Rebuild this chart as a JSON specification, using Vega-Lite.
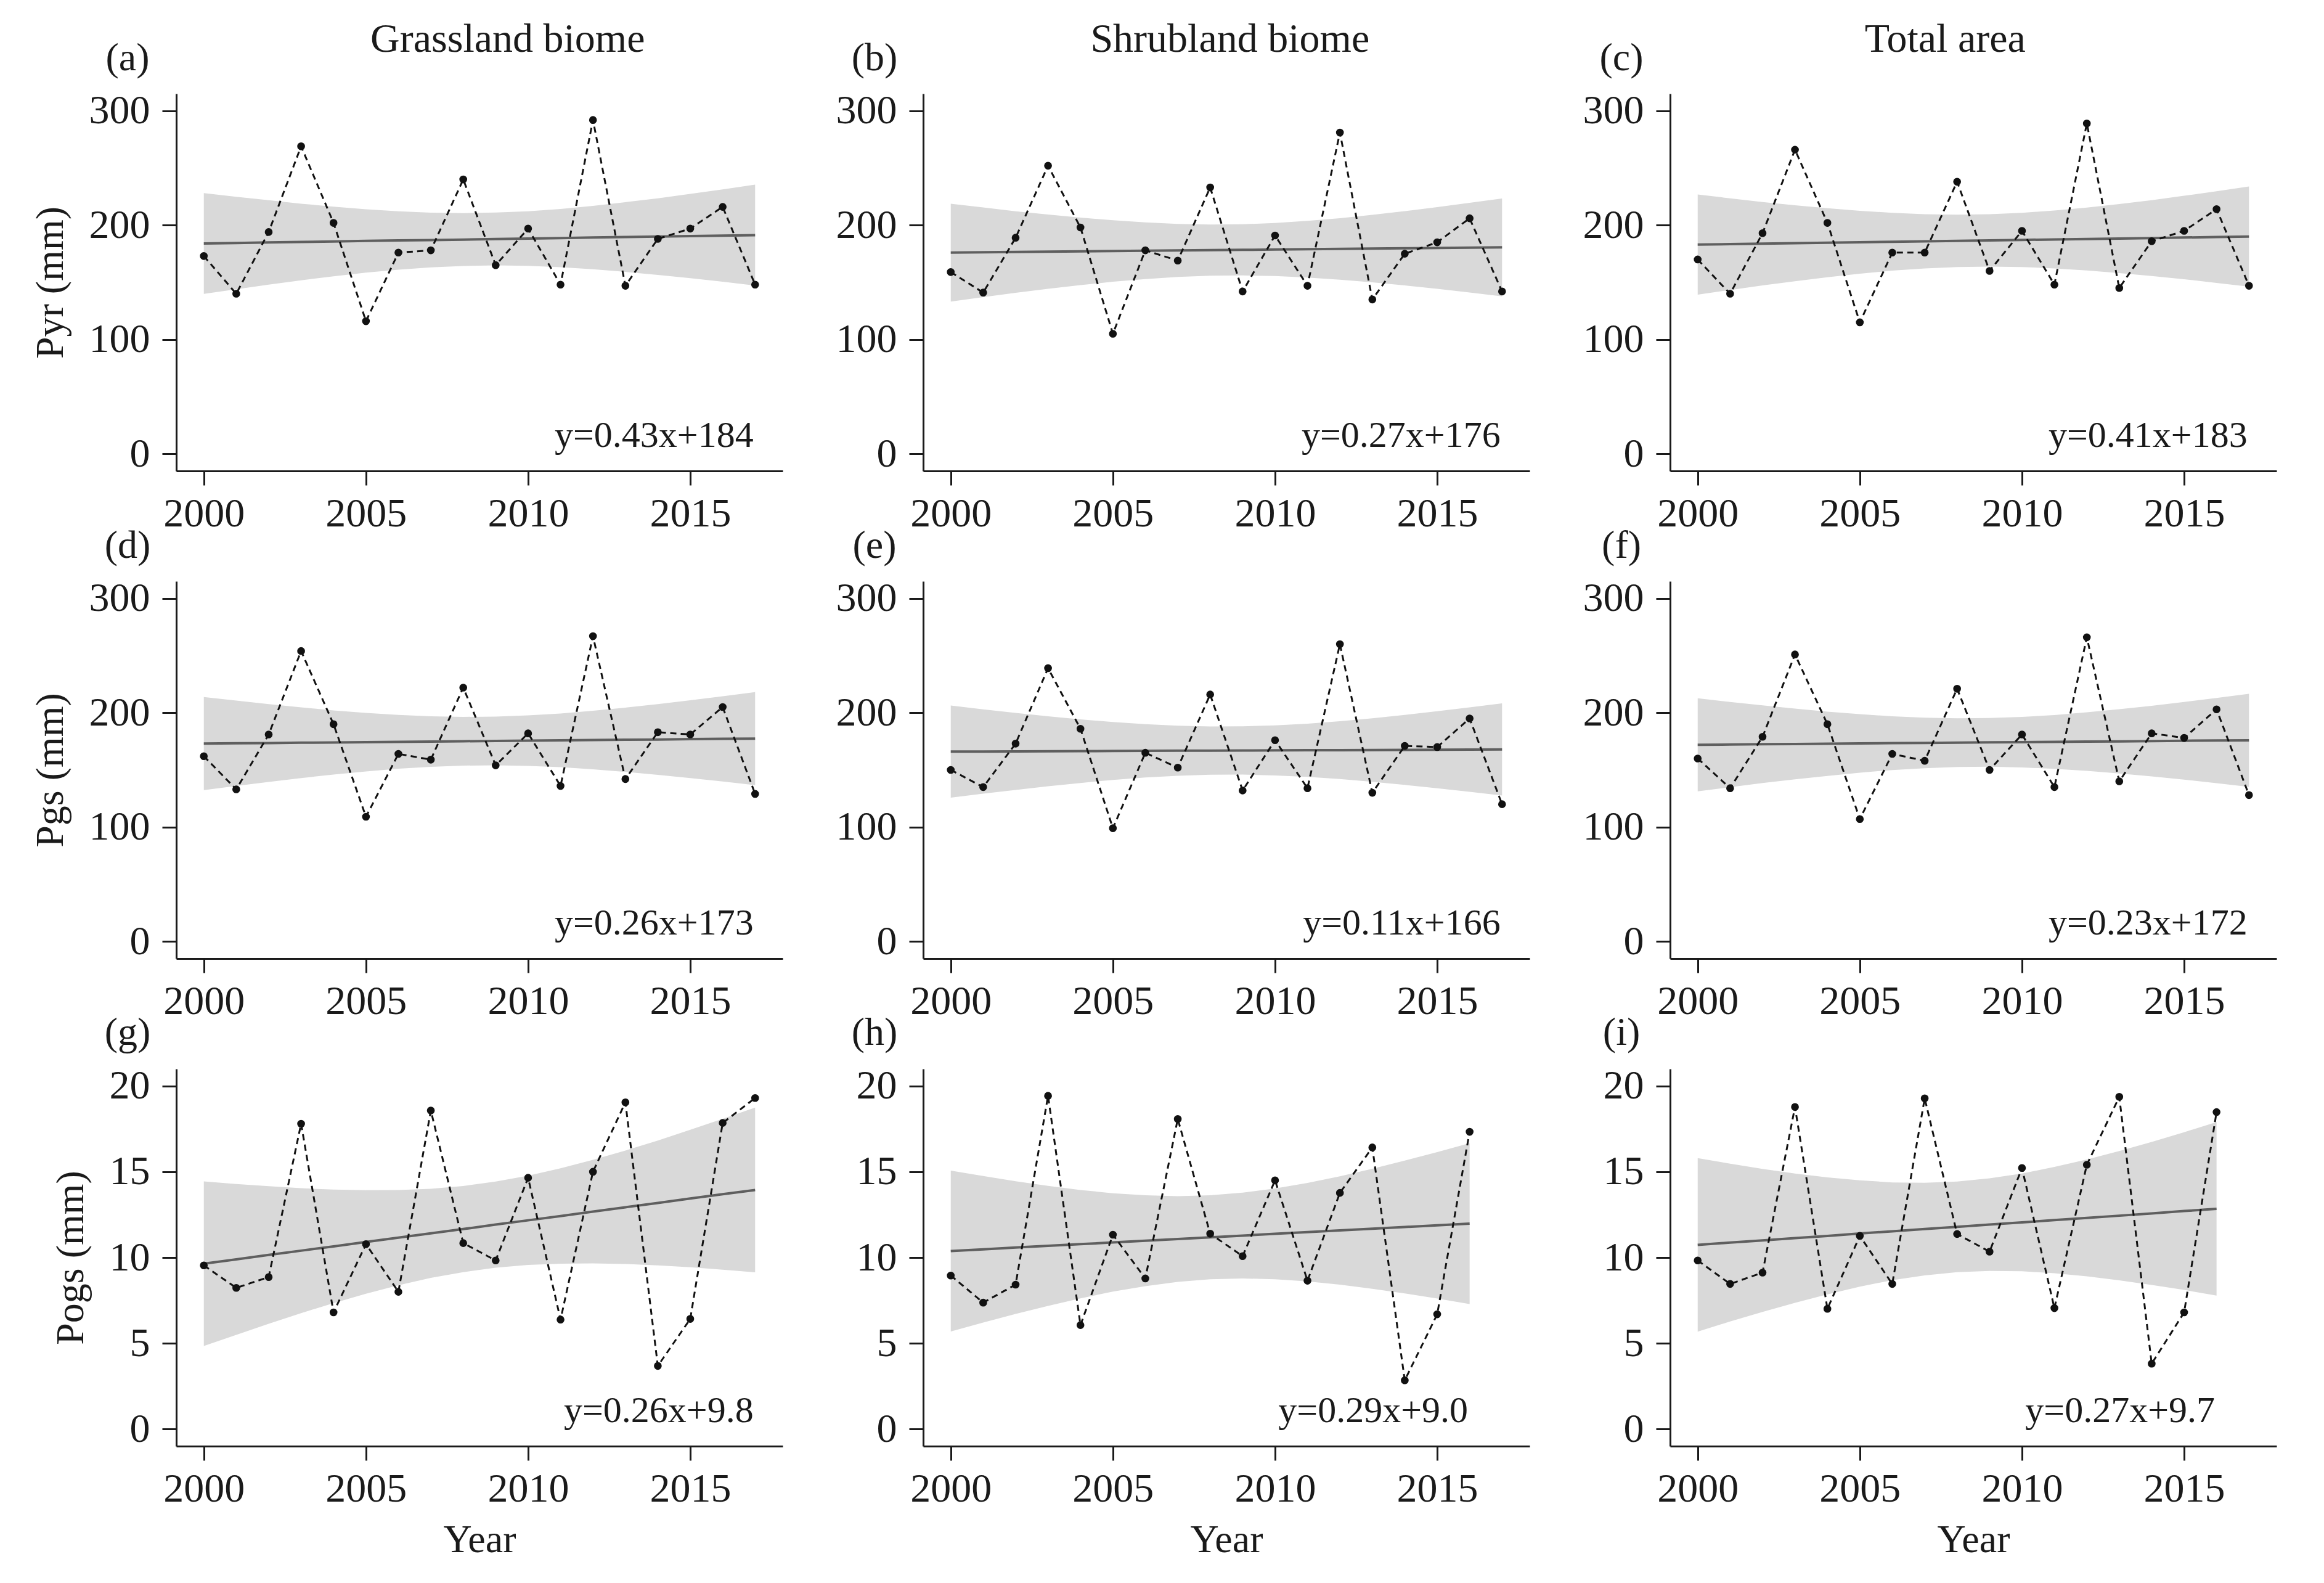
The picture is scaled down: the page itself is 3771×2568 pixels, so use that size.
{
"$schema": "https://vega.github.io/schema/vega-lite/v6.json",
"background": "white",
"padding": {"left": 50, "top": 30, "right": 70, "bottom": 30},
"bounds": "flush",
"columns": 3,
"spacing": {"row": 179, "column": 228},
"datasets": {
"a": [
{"year":2000,"v":173,"fit":184,"lo":139.9,"hi":228.1},{"year":2001,"v":140,"fit":184.4,"lo":144.0,"hi":224.8},{"year":2002,"v":194,"fit":184.9,"lo":148.0,"hi":221.8},{"year":2003,"v":269,"fit":185.3,"lo":151.8,"hi":218.8},{"year":2004,"v":202,"fit":185.7,"lo":155.2,"hi":216.2},{"year":2005,"v":116,"fit":186.2,"lo":158.5,"hi":213.9},{"year":2006,"v":176,"fit":186.6,"lo":161.1,"hi":212.1},{"year":2007,"v":178,"fit":187.0,"lo":163.1,"hi":210.9},{"year":2008,"v":240,"fit":187.4,"lo":164.3,"hi":210.5},{"year":2009,"v":165,"fit":187.9,"lo":164.8,"hi":211.0},{"year":2010,"v":197,"fit":188.3,"lo":164.4,"hi":212.2},{"year":2011,"v":148,"fit":188.7,"lo":163.2,"hi":214.2},{"year":2012,"v":292,"fit":189.2,"lo":161.5,"hi":216.9},{"year":2013,"v":147,"fit":189.6,"lo":159.1,"hi":220.1},{"year":2014,"v":188,"fit":190.0,"lo":156.5,"hi":223.5},{"year":2015,"v":197,"fit":190.5,"lo":153.6,"hi":227.4},{"year":2016,"v":216,"fit":190.9,"lo":150.5,"hi":231.3},{"year":2017,"v":148,"fit":191.3,"lo":147.2,"hi":235.4}],
"b": [
{"year":2000,"v":159,"fit":176,"lo":133.2,"hi":218.8},{"year":2001,"v":141,"fit":176.3,"lo":137.1,"hi":215.5},{"year":2002,"v":189,"fit":176.5,"lo":140.8,"hi":212.2},{"year":2003,"v":252,"fit":176.8,"lo":144.3,"hi":209.3},{"year":2004,"v":198,"fit":177.1,"lo":147.6,"hi":206.6},{"year":2005,"v":105,"fit":177.4,"lo":150.5,"hi":204.3},{"year":2006,"v":178,"fit":177.6,"lo":152.8,"hi":202.4},{"year":2007,"v":169,"fit":177.9,"lo":154.7,"hi":201.1},{"year":2008,"v":233,"fit":178.2,"lo":155.8,"hi":200.6},{"year":2009,"v":142,"fit":178.4,"lo":156.0,"hi":200.8},{"year":2010,"v":191,"fit":178.7,"lo":155.5,"hi":201.9},{"year":2011,"v":147,"fit":179.0,"lo":154.2,"hi":203.8},{"year":2012,"v":281,"fit":179.2,"lo":152.3,"hi":206.1},{"year":2013,"v":135,"fit":179.5,"lo":150.0,"hi":209.0},{"year":2014,"v":175,"fit":179.8,"lo":147.3,"hi":212.3},{"year":2015,"v":185,"fit":180.1,"lo":144.4,"hi":215.8},{"year":2016,"v":206,"fit":180.3,"lo":141.1,"hi":219.5},{"year":2017,"v":142,"fit":180.6,"lo":137.8,"hi":223.4}],
"c": [
{"year":2000,"v":170,"fit":183,"lo":139.2,"hi":226.8},{"year":2001,"v":140,"fit":183.4,"lo":143.3,"hi":223.5},{"year":2002,"v":193,"fit":183.8,"lo":147.3,"hi":220.3},{"year":2003,"v":266,"fit":184.2,"lo":151.0,"hi":217.4},{"year":2004,"v":202,"fit":184.6,"lo":154.4,"hi":214.8},{"year":2005,"v":115,"fit":185.1,"lo":157.6,"hi":212.6},{"year":2006,"v":176,"fit":185.5,"lo":160.2,"hi":210.8},{"year":2007,"v":176,"fit":185.9,"lo":162.2,"hi":209.6},{"year":2008,"v":238,"fit":186.3,"lo":163.4,"hi":209.2},{"year":2009,"v":160,"fit":186.7,"lo":163.8,"hi":209.6},{"year":2010,"v":195,"fit":187.1,"lo":163.4,"hi":210.8},{"year":2011,"v":148,"fit":187.5,"lo":162.2,"hi":212.8},{"year":2012,"v":289,"fit":187.9,"lo":160.4,"hi":215.4},{"year":2013,"v":145,"fit":188.3,"lo":158.1,"hi":218.5},{"year":2014,"v":186,"fit":188.7,"lo":155.5,"hi":221.9},{"year":2015,"v":195,"fit":189.2,"lo":152.7,"hi":225.7},{"year":2016,"v":214,"fit":189.6,"lo":149.5,"hi":229.7},{"year":2017,"v":147,"fit":190.0,"lo":146.2,"hi":233.8}],
"d": [
{"year":2000,"v":162,"fit":173,"lo":132.3,"hi":213.7},{"year":2001,"v":133,"fit":173.3,"lo":136.0,"hi":210.6},{"year":2002,"v":181,"fit":173.5,"lo":139.5,"hi":207.5},{"year":2003,"v":254,"fit":173.8,"lo":142.9,"hi":204.7},{"year":2004,"v":190,"fit":174.0,"lo":145.9,"hi":202.1},{"year":2005,"v":109,"fit":174.3,"lo":148.7,"hi":199.9},{"year":2006,"v":164,"fit":174.6,"lo":151.1,"hi":198.1},{"year":2007,"v":159,"fit":174.8,"lo":152.7,"hi":196.9},{"year":2008,"v":222,"fit":175.1,"lo":153.8,"hi":196.4},{"year":2009,"v":154,"fit":175.3,"lo":154.0,"hi":196.6},{"year":2010,"v":182,"fit":175.6,"lo":153.5,"hi":197.7},{"year":2011,"v":136,"fit":175.9,"lo":152.4,"hi":199.4},{"year":2012,"v":267,"fit":176.1,"lo":150.5,"hi":201.7},{"year":2013,"v":142,"fit":176.4,"lo":148.3,"hi":204.5},{"year":2014,"v":183,"fit":176.6,"lo":145.7,"hi":207.5},{"year":2015,"v":181,"fit":176.9,"lo":142.9,"hi":210.9},{"year":2016,"v":205,"fit":177.2,"lo":139.9,"hi":214.5},{"year":2017,"v":129,"fit":177.4,"lo":136.7,"hi":218.1}],
"e": [
{"year":2000,"v":150,"fit":166,"lo":125.7,"hi":206.3},{"year":2001,"v":135,"fit":166.1,"lo":129.2,"hi":203.0},{"year":2002,"v":173,"fit":166.2,"lo":132.5,"hi":199.9},{"year":2003,"v":239,"fit":166.3,"lo":135.7,"hi":196.9},{"year":2004,"v":186,"fit":166.4,"lo":138.6,"hi":194.2},{"year":2005,"v":99,"fit":166.6,"lo":141.3,"hi":191.9},{"year":2006,"v":165,"fit":166.7,"lo":143.4,"hi":190.0},{"year":2007,"v":152,"fit":166.8,"lo":144.9,"hi":188.7},{"year":2008,"v":216,"fit":166.9,"lo":145.8,"hi":188.0},{"year":2009,"v":132,"fit":167.0,"lo":145.9,"hi":188.1},{"year":2010,"v":176,"fit":167.1,"lo":145.2,"hi":189.0},{"year":2011,"v":134,"fit":167.2,"lo":143.9,"hi":190.5},{"year":2012,"v":260,"fit":167.3,"lo":142.0,"hi":192.6},{"year":2013,"v":130,"fit":167.4,"lo":139.6,"hi":195.2},{"year":2014,"v":171,"fit":167.5,"lo":136.9,"hi":198.1},{"year":2015,"v":170,"fit":167.7,"lo":134.0,"hi":201.4},{"year":2016,"v":195,"fit":167.8,"lo":130.9,"hi":204.7},{"year":2017,"v":120,"fit":167.9,"lo":127.6,"hi":208.2}],
"f": [
{"year":2000,"v":160,"fit":172,"lo":131.3,"hi":212.7},{"year":2001,"v":134,"fit":172.2,"lo":134.9,"hi":209.5},{"year":2002,"v":179,"fit":172.5,"lo":138.5,"hi":206.5},{"year":2003,"v":251,"fit":172.7,"lo":141.8,"hi":203.6},{"year":2004,"v":190,"fit":172.9,"lo":144.8,"hi":201.0},{"year":2005,"v":107,"fit":173.2,"lo":147.6,"hi":198.8},{"year":2006,"v":164,"fit":173.4,"lo":149.9,"hi":196.9},{"year":2007,"v":158,"fit":173.6,"lo":151.5,"hi":195.7},{"year":2008,"v":221,"fit":173.8,"lo":152.5,"hi":195.1},{"year":2009,"v":150,"fit":174.1,"lo":152.8,"hi":195.4},{"year":2010,"v":181,"fit":174.3,"lo":152.2,"hi":196.4},{"year":2011,"v":135,"fit":174.5,"lo":151.0,"hi":198.0},{"year":2012,"v":266,"fit":174.8,"lo":149.2,"hi":200.4},{"year":2013,"v":140,"fit":175.0,"lo":146.9,"hi":203.1},{"year":2014,"v":182,"fit":175.2,"lo":144.3,"hi":206.1},{"year":2015,"v":178,"fit":175.5,"lo":141.5,"hi":209.5},{"year":2016,"v":203,"fit":175.7,"lo":138.4,"hi":213.0},{"year":2017,"v":128,"fit":175.9,"lo":135.2,"hi":216.6}],
"g": [
{"year":2000,"v":9.54,"fit":9.64,"lo":4.84,"hi":14.44},{"year":2001,"v":8.23,"fit":9.89,"lo":5.49,"hi":14.29},{"year":2002,"v":8.86,"fit":10.15,"lo":6.14,"hi":14.16},{"year":2003,"v":17.8,"fit":10.40,"lo":6.76,"hi":14.04},{"year":2004,"v":6.8,"fit":10.65,"lo":7.34,"hi":13.96},{"year":2005,"v":10.78,"fit":10.91,"lo":7.89,"hi":13.93},{"year":2006,"v":8.0,"fit":11.16,"lo":8.38,"hi":13.94},{"year":2007,"v":18.57,"fit":11.41,"lo":8.81,"hi":14.01},{"year":2008,"v":10.84,"fit":11.66,"lo":9.15,"hi":14.17},{"year":2009,"v":9.83,"fit":11.92,"lo":9.41,"hi":14.43},{"year":2010,"v":14.65,"fit":12.17,"lo":9.57,"hi":14.77},{"year":2011,"v":6.38,"fit":12.42,"lo":9.64,"hi":15.20},{"year":2012,"v":15.0,"fit":12.68,"lo":9.66,"hi":15.70},{"year":2013,"v":19.05,"fit":12.93,"lo":9.62,"hi":16.24},{"year":2014,"v":3.68,"fit":13.18,"lo":9.54,"hi":16.82},{"year":2015,"v":6.42,"fit":13.44,"lo":9.43,"hi":17.45},{"year":2016,"v":17.85,"fit":13.69,"lo":9.29,"hi":18.09},{"year":2017,"v":19.3,"fit":13.94,"lo":9.14,"hi":18.74}],
"h": [
{"year":2000,"v":8.95,"fit":10.38,"lo":5.69,"hi":15.07},{"year":2001,"v":7.37,"fit":10.48,"lo":6.21,"hi":14.75},{"year":2002,"v":8.42,"fit":10.58,"lo":6.71,"hi":14.45},{"year":2003,"v":19.43,"fit":10.68,"lo":7.18,"hi":14.18},{"year":2004,"v":6.06,"fit":10.78,"lo":7.62,"hi":13.94},{"year":2005,"v":11.33,"fit":10.88,"lo":8.01,"hi":13.75},{"year":2006,"v":8.78,"fit":10.98,"lo":8.33,"hi":13.63},{"year":2007,"v":18.08,"fit":11.08,"lo":8.58,"hi":13.58},{"year":2008,"v":11.39,"fit":11.18,"lo":8.73,"hi":13.63},{"year":2009,"v":10.08,"fit":11.28,"lo":8.78,"hi":13.78},{"year":2010,"v":14.5,"fit":11.38,"lo":8.73,"hi":14.03},{"year":2011,"v":8.65,"fit":11.48,"lo":8.61,"hi":14.35},{"year":2012,"v":13.77,"fit":11.58,"lo":8.42,"hi":14.74},{"year":2013,"v":16.42,"fit":11.68,"lo":8.18,"hi":15.18},{"year":2014,"v":2.84,"fit":11.78,"lo":7.91,"hi":15.65},{"year":2015,"v":6.69,"fit":11.88,"lo":7.61,"hi":16.15},{"year":2016,"v":17.33,"fit":11.98,"lo":7.29,"hi":16.67}],
"i": [
{"year":2000,"v":9.83,"fit":10.74,"lo":5.68,"hi":15.80},{"year":2001,"v":8.46,"fit":10.87,"lo":6.27,"hi":15.47},{"year":2002,"v":9.12,"fit":11.00,"lo":6.83,"hi":15.17},{"year":2003,"v":18.78,"fit":11.13,"lo":7.36,"hi":14.90},{"year":2004,"v":7.01,"fit":11.26,"lo":7.85,"hi":14.67},{"year":2005,"v":11.26,"fit":11.40,"lo":8.30,"hi":14.50},{"year":2006,"v":8.46,"fit":11.53,"lo":8.68,"hi":14.38},{"year":2007,"v":19.28,"fit":11.66,"lo":8.96,"hi":14.36},{"year":2008,"v":11.37,"fit":11.79,"lo":9.15,"hi":14.43},{"year":2009,"v":10.34,"fit":11.92,"lo":9.22,"hi":14.62},{"year":2010,"v":15.22,"fit":12.05,"lo":9.20,"hi":14.90},{"year":2011,"v":7.05,"fit":12.18,"lo":9.08,"hi":15.28},{"year":2012,"v":15.41,"fit":12.31,"lo":8.90,"hi":15.72},{"year":2013,"v":19.37,"fit":12.44,"lo":8.67,"hi":16.21},{"year":2014,"v":3.81,"fit":12.57,"lo":8.40,"hi":16.74},{"year":2015,"v":6.8,"fit":12.71,"lo":8.11,"hi":17.31},{"year":2016,"v":18.48,"fit":12.84,"lo":7.78,"hi":17.90}]
},
"concat": [
{"data":{"name":"a"},"width":984,"height":612,
"encoding":{"x":{"field":"year","type":"quantitative","title":null,"scale":{"domain":[1999.15,2017.85],"nice":false,"zero":false},"axis":{"values":[2000,2005,2010,2015],"format":"d"}}},
"layer":[
{"mark":{"type":"area","color":"#d9d9d9"},"encoding":{"y":{"field":"lo","type":"quantitative","title":"Pyr (mm)","scale":{"domain":[-15,315],"nice":false,"zero":false},"axis":{"values":[0,100,200,300]}},"y2":{"field":"hi"}}},
{"mark":{"type":"line","color":"#5f5f5f","strokeWidth":4},"encoding":{"y":{"field":"fit","type":"quantitative","title":"Pyr (mm)"}}},
{"mark":{"type":"line","color":"#111111","strokeWidth":3,"strokeDash":[10,7]},"encoding":{"y":{"field":"v","type":"quantitative","title":"Pyr (mm)"}}},
{"mark":{"type":"circle","color":"#111111","opacity":1,"size":160},"encoding":{"y":{"field":"v","type":"quantitative","title":"Pyr (mm)"}}},
{"transform":[{"filter":"datum.year == 2000"}],"mark":{"type":"text","align":"right","baseline":"alphabetic","fontSize":60},"encoding":{"x":{"datum":2016.95,"type":"quantitative","title":null},"y":{"datum":6,"type":"quantitative","title":"Pyr (mm)"},"text":{"value":"y=0.43x+184"}}},
{"transform":[{"filter":"datum.year == 2000"}],"mark":{"type":"text","align":"center","baseline":"alphabetic","fontSize":64},"encoding":{"x":{"datum":1997.65,"type":"quantitative","title":null},"y":{"datum":335.5,"type":"quantitative","title":"Pyr (mm)"},"text":{"value":"(a)"}}},
{"transform":[{"filter":"datum.year == 2000"}],"mark":{"type":"text","align":"center","baseline":"alphabetic","fontSize":66},"encoding":{"x":{"datum":2009.37,"type":"quantitative","title":null},"y":{"datum":351.7,"type":"quantitative","title":"Pyr (mm)"},"text":{"value":"Grassland biome"}}}
]},
{"data":{"name":"b"},"width":984,"height":612,
"encoding":{"x":{"field":"year","type":"quantitative","title":null,"scale":{"domain":[1999.15,2017.85],"nice":false,"zero":false},"axis":{"values":[2000,2005,2010,2015],"format":"d"}}},
"layer":[
{"mark":{"type":"area","color":"#d9d9d9"},"encoding":{"y":{"field":"lo","type":"quantitative","title":null,"scale":{"domain":[-15,315],"nice":false,"zero":false},"axis":{"values":[0,100,200,300]}},"y2":{"field":"hi"}}},
{"mark":{"type":"line","color":"#5f5f5f","strokeWidth":4},"encoding":{"y":{"field":"fit","type":"quantitative","title":null}}},
{"mark":{"type":"line","color":"#111111","strokeWidth":3,"strokeDash":[10,7]},"encoding":{"y":{"field":"v","type":"quantitative","title":null}}},
{"mark":{"type":"circle","color":"#111111","opacity":1,"size":160},"encoding":{"y":{"field":"v","type":"quantitative","title":null}}},
{"transform":[{"filter":"datum.year == 2000"}],"mark":{"type":"text","align":"right","baseline":"alphabetic","fontSize":60},"encoding":{"x":{"datum":2016.95,"type":"quantitative","title":null},"y":{"datum":6,"type":"quantitative","title":null},"text":{"value":"y=0.27x+176"}}},
{"transform":[{"filter":"datum.year == 2000"}],"mark":{"type":"text","align":"center","baseline":"alphabetic","fontSize":64},"encoding":{"x":{"datum":1997.65,"type":"quantitative","title":null},"y":{"datum":335.5,"type":"quantitative","title":null},"text":{"value":"(b)"}}},
{"transform":[{"filter":"datum.year == 2000"}],"mark":{"type":"text","align":"center","baseline":"alphabetic","fontSize":66},"encoding":{"x":{"datum":2008.61,"type":"quantitative","title":null},"y":{"datum":351.7,"type":"quantitative","title":null},"text":{"value":"Shrubland biome"}}}
]},
{"data":{"name":"c"},"width":984,"height":612,
"encoding":{"x":{"field":"year","type":"quantitative","title":null,"scale":{"domain":[1999.15,2017.85],"nice":false,"zero":false},"axis":{"values":[2000,2005,2010,2015],"format":"d"}}},
"layer":[
{"mark":{"type":"area","color":"#d9d9d9"},"encoding":{"y":{"field":"lo","type":"quantitative","title":null,"scale":{"domain":[-15,315],"nice":false,"zero":false},"axis":{"values":[0,100,200,300]}},"y2":{"field":"hi"}}},
{"mark":{"type":"line","color":"#5f5f5f","strokeWidth":4},"encoding":{"y":{"field":"fit","type":"quantitative","title":null}}},
{"mark":{"type":"line","color":"#111111","strokeWidth":3,"strokeDash":[10,7]},"encoding":{"y":{"field":"v","type":"quantitative","title":null}}},
{"mark":{"type":"circle","color":"#111111","opacity":1,"size":160},"encoding":{"y":{"field":"v","type":"quantitative","title":null}}},
{"transform":[{"filter":"datum.year == 2000"}],"mark":{"type":"text","align":"right","baseline":"alphabetic","fontSize":60},"encoding":{"x":{"datum":2016.95,"type":"quantitative","title":null},"y":{"datum":6,"type":"quantitative","title":null},"text":{"value":"y=0.41x+183"}}},
{"transform":[{"filter":"datum.year == 2000"}],"mark":{"type":"text","align":"center","baseline":"alphabetic","fontSize":64},"encoding":{"x":{"datum":1997.65,"type":"quantitative","title":null},"y":{"datum":335.5,"type":"quantitative","title":null},"text":{"value":"(c)"}}},
{"transform":[{"filter":"datum.year == 2000"}],"mark":{"type":"text","align":"center","baseline":"alphabetic","fontSize":66},"encoding":{"x":{"datum":2007.63,"type":"quantitative","title":null},"y":{"datum":351.7,"type":"quantitative","title":null},"text":{"value":"Total area"}}}
]},
{"data":{"name":"d"},"width":984,"height":612,
"encoding":{"x":{"field":"year","type":"quantitative","title":null,"scale":{"domain":[1999.15,2017.85],"nice":false,"zero":false},"axis":{"values":[2000,2005,2010,2015],"format":"d"}}},
"layer":[
{"mark":{"type":"area","color":"#d9d9d9"},"encoding":{"y":{"field":"lo","type":"quantitative","title":"Pgs (mm)","scale":{"domain":[-15,315],"nice":false,"zero":false},"axis":{"values":[0,100,200,300]}},"y2":{"field":"hi"}}},
{"mark":{"type":"line","color":"#5f5f5f","strokeWidth":4},"encoding":{"y":{"field":"fit","type":"quantitative","title":"Pgs (mm)"}}},
{"mark":{"type":"line","color":"#111111","strokeWidth":3,"strokeDash":[10,7]},"encoding":{"y":{"field":"v","type":"quantitative","title":"Pgs (mm)"}}},
{"mark":{"type":"circle","color":"#111111","opacity":1,"size":160},"encoding":{"y":{"field":"v","type":"quantitative","title":"Pgs (mm)"}}},
{"transform":[{"filter":"datum.year == 2000"}],"mark":{"type":"text","align":"right","baseline":"alphabetic","fontSize":60},"encoding":{"x":{"datum":2016.95,"type":"quantitative","title":null},"y":{"datum":6,"type":"quantitative","title":"Pgs (mm)"},"text":{"value":"y=0.26x+173"}}},
{"transform":[{"filter":"datum.year == 2000"}],"mark":{"type":"text","align":"center","baseline":"alphabetic","fontSize":64},"encoding":{"x":{"datum":1997.65,"type":"quantitative","title":null},"y":{"datum":335.5,"type":"quantitative","title":"Pgs (mm)"},"text":{"value":"(d)"}}}
]},
{"data":{"name":"e"},"width":984,"height":612,
"encoding":{"x":{"field":"year","type":"quantitative","title":null,"scale":{"domain":[1999.15,2017.85],"nice":false,"zero":false},"axis":{"values":[2000,2005,2010,2015],"format":"d"}}},
"layer":[
{"mark":{"type":"area","color":"#d9d9d9"},"encoding":{"y":{"field":"lo","type":"quantitative","title":null,"scale":{"domain":[-15,315],"nice":false,"zero":false},"axis":{"values":[0,100,200,300]}},"y2":{"field":"hi"}}},
{"mark":{"type":"line","color":"#5f5f5f","strokeWidth":4},"encoding":{"y":{"field":"fit","type":"quantitative","title":null}}},
{"mark":{"type":"line","color":"#111111","strokeWidth":3,"strokeDash":[10,7]},"encoding":{"y":{"field":"v","type":"quantitative","title":null}}},
{"mark":{"type":"circle","color":"#111111","opacity":1,"size":160},"encoding":{"y":{"field":"v","type":"quantitative","title":null}}},
{"transform":[{"filter":"datum.year == 2000"}],"mark":{"type":"text","align":"right","baseline":"alphabetic","fontSize":60},"encoding":{"x":{"datum":2016.95,"type":"quantitative","title":null},"y":{"datum":6,"type":"quantitative","title":null},"text":{"value":"y=0.11x+166"}}},
{"transform":[{"filter":"datum.year == 2000"}],"mark":{"type":"text","align":"center","baseline":"alphabetic","fontSize":64},"encoding":{"x":{"datum":1997.65,"type":"quantitative","title":null},"y":{"datum":335.5,"type":"quantitative","title":null},"text":{"value":"(e)"}}}
]},
{"data":{"name":"f"},"width":984,"height":612,
"encoding":{"x":{"field":"year","type":"quantitative","title":null,"scale":{"domain":[1999.15,2017.85],"nice":false,"zero":false},"axis":{"values":[2000,2005,2010,2015],"format":"d"}}},
"layer":[
{"mark":{"type":"area","color":"#d9d9d9"},"encoding":{"y":{"field":"lo","type":"quantitative","title":null,"scale":{"domain":[-15,315],"nice":false,"zero":false},"axis":{"values":[0,100,200,300]}},"y2":{"field":"hi"}}},
{"mark":{"type":"line","color":"#5f5f5f","strokeWidth":4},"encoding":{"y":{"field":"fit","type":"quantitative","title":null}}},
{"mark":{"type":"line","color":"#111111","strokeWidth":3,"strokeDash":[10,7]},"encoding":{"y":{"field":"v","type":"quantitative","title":null}}},
{"mark":{"type":"circle","color":"#111111","opacity":1,"size":160},"encoding":{"y":{"field":"v","type":"quantitative","title":null}}},
{"transform":[{"filter":"datum.year == 2000"}],"mark":{"type":"text","align":"right","baseline":"alphabetic","fontSize":60},"encoding":{"x":{"datum":2016.95,"type":"quantitative","title":null},"y":{"datum":6,"type":"quantitative","title":null},"text":{"value":"y=0.23x+172"}}},
{"transform":[{"filter":"datum.year == 2000"}],"mark":{"type":"text","align":"center","baseline":"alphabetic","fontSize":64},"encoding":{"x":{"datum":1997.65,"type":"quantitative","title":null},"y":{"datum":335.5,"type":"quantitative","title":null},"text":{"value":"(f)"}}}
]},
{"data":{"name":"g"},"width":984,"height":612,
"encoding":{"x":{"field":"year","type":"quantitative","title":"Year","scale":{"domain":[1999.15,2017.85],"nice":false,"zero":false},"axis":{"values":[2000,2005,2010,2015],"format":"d"}}},
"layer":[
{"mark":{"type":"area","color":"#d9d9d9"},"encoding":{"y":{"field":"lo","type":"quantitative","title":"Pogs (mm)","scale":{"domain":[-1,21],"nice":false,"zero":false},"axis":{"values":[0,5,10,15,20]}},"y2":{"field":"hi"}}},
{"mark":{"type":"line","color":"#5f5f5f","strokeWidth":4},"encoding":{"y":{"field":"fit","type":"quantitative","title":"Pogs (mm)"}}},
{"mark":{"type":"line","color":"#111111","strokeWidth":3,"strokeDash":[10,7]},"encoding":{"y":{"field":"v","type":"quantitative","title":"Pogs (mm)"}}},
{"mark":{"type":"circle","color":"#111111","opacity":1,"size":160},"encoding":{"y":{"field":"v","type":"quantitative","title":"Pogs (mm)"}}},
{"transform":[{"filter":"datum.year == 2000"}],"mark":{"type":"text","align":"right","baseline":"alphabetic","fontSize":60},"encoding":{"x":{"datum":2016.95,"type":"quantitative","title":"Year"},"y":{"datum":0.4,"type":"quantitative","title":"Pogs (mm)"},"text":{"value":"y=0.26x+9.8"}}},
{"transform":[{"filter":"datum.year == 2000"}],"mark":{"type":"text","align":"center","baseline":"alphabetic","fontSize":64},"encoding":{"x":{"datum":1997.65,"type":"quantitative","title":"Year"},"y":{"datum":22.4,"type":"quantitative","title":"Pogs (mm)"},"text":{"value":"(g)"}}}
]},
{"data":{"name":"h"},"width":984,"height":612,
"encoding":{"x":{"field":"year","type":"quantitative","title":"Year","scale":{"domain":[1999.15,2017.85],"nice":false,"zero":false},"axis":{"values":[2000,2005,2010,2015],"format":"d"}}},
"layer":[
{"mark":{"type":"area","color":"#d9d9d9"},"encoding":{"y":{"field":"lo","type":"quantitative","title":null,"scale":{"domain":[-1,21],"nice":false,"zero":false},"axis":{"values":[0,5,10,15,20]}},"y2":{"field":"hi"}}},
{"mark":{"type":"line","color":"#5f5f5f","strokeWidth":4},"encoding":{"y":{"field":"fit","type":"quantitative","title":null}}},
{"mark":{"type":"line","color":"#111111","strokeWidth":3,"strokeDash":[10,7]},"encoding":{"y":{"field":"v","type":"quantitative","title":null}}},
{"mark":{"type":"circle","color":"#111111","opacity":1,"size":160},"encoding":{"y":{"field":"v","type":"quantitative","title":null}}},
{"transform":[{"filter":"datum.year == 2000"}],"mark":{"type":"text","align":"right","baseline":"alphabetic","fontSize":60},"encoding":{"x":{"datum":2015.95,"type":"quantitative","title":"Year"},"y":{"datum":0.4,"type":"quantitative","title":null},"text":{"value":"y=0.29x+9.0"}}},
{"transform":[{"filter":"datum.year == 2000"}],"mark":{"type":"text","align":"center","baseline":"alphabetic","fontSize":64},"encoding":{"x":{"datum":1997.65,"type":"quantitative","title":"Year"},"y":{"datum":22.4,"type":"quantitative","title":null},"text":{"value":"(h)"}}}
]},
{"data":{"name":"i"},"width":984,"height":612,
"encoding":{"x":{"field":"year","type":"quantitative","title":"Year","scale":{"domain":[1999.15,2017.85],"nice":false,"zero":false},"axis":{"values":[2000,2005,2010,2015],"format":"d"}}},
"layer":[
{"mark":{"type":"area","color":"#d9d9d9"},"encoding":{"y":{"field":"lo","type":"quantitative","title":null,"scale":{"domain":[-1,21],"nice":false,"zero":false},"axis":{"values":[0,5,10,15,20]}},"y2":{"field":"hi"}}},
{"mark":{"type":"line","color":"#5f5f5f","strokeWidth":4},"encoding":{"y":{"field":"fit","type":"quantitative","title":null}}},
{"mark":{"type":"line","color":"#111111","strokeWidth":3,"strokeDash":[10,7]},"encoding":{"y":{"field":"v","type":"quantitative","title":null}}},
{"mark":{"type":"circle","color":"#111111","opacity":1,"size":160},"encoding":{"y":{"field":"v","type":"quantitative","title":null}}},
{"transform":[{"filter":"datum.year == 2000"}],"mark":{"type":"text","align":"right","baseline":"alphabetic","fontSize":60},"encoding":{"x":{"datum":2015.95,"type":"quantitative","title":"Year"},"y":{"datum":0.4,"type":"quantitative","title":null},"text":{"value":"y=0.27x+9.7"}}},
{"transform":[{"filter":"datum.year == 2000"}],"mark":{"type":"text","align":"center","baseline":"alphabetic","fontSize":64},"encoding":{"x":{"datum":1997.65,"type":"quantitative","title":"Year"},"y":{"datum":22.4,"type":"quantitative","title":null},"text":{"value":"(i)"}}}
]}
],
"config": {
"view": {"stroke": null},
"font": "Liberation Serif",
"text": {"font": "Liberation Serif", "color": "#1a1a1a"},
"axis": {"grid": false, "domainColor": "#1a1a1a", "domainWidth": 3, "tickColor": "#1a1a1a", "tickWidth": 3, "tickSize": 23, "labelFont": "Liberation Serif", "labelFontSize": 66, "labelColor": "#1a1a1a", "labelPadding": 20, "titleFont": "Liberation Serif", "titleFontSize": 64, "titleFontWeight": "normal", "titleColor": "#1a1a1a", "titlePadding": 30},
"axisX": {"labelPadding": 14, "titlePadding": 18}
}
}
